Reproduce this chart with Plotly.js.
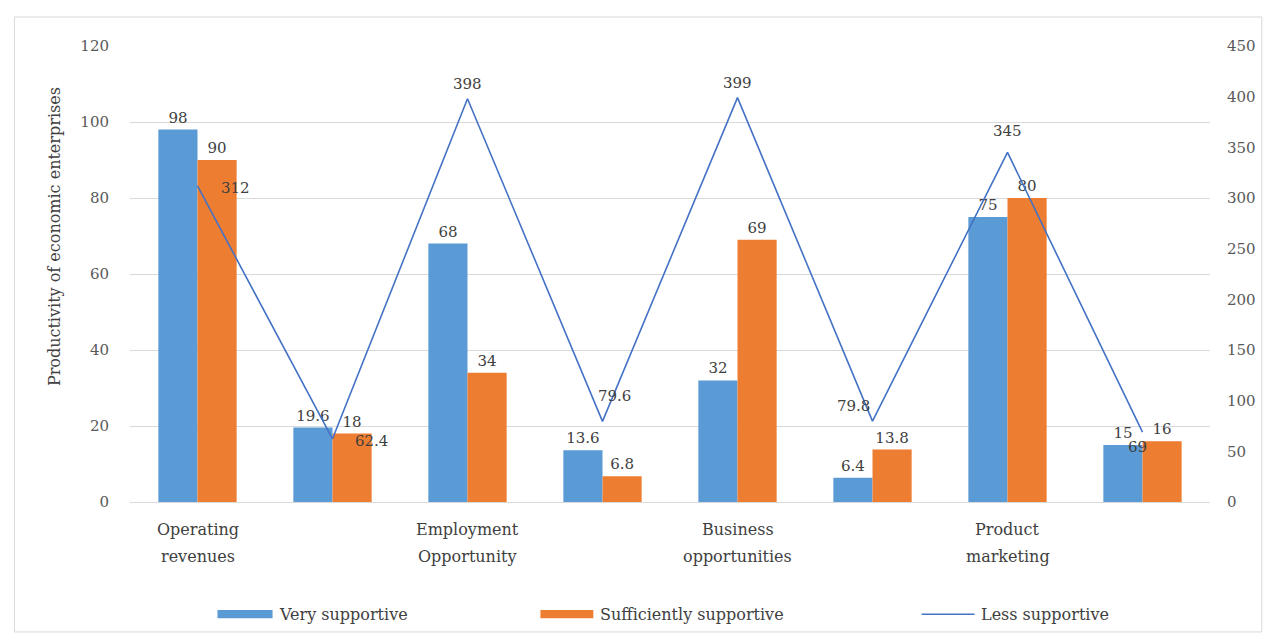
<!DOCTYPE html>
<html>
<head>
<meta charset="utf-8">
<script src="https://cdn.plot.ly/plotly-3.0.1.min.js"></script>
<style>
  html, body { margin: 0; padding: 0; background: #ffffff; }
  #chart { width: 1263px; height: 639px; }
</style>
</head>
<body>
<div id="chart"></div>
<script>
// Category slots (every other slot carries a two-line label)
const categories = ["c1", "c2", "c3", "c4", "c5", "c6", "c7", "c8"];
const labelLine1 = ["Operating", "", "Employment", "", "Business", "", "Product", ""];
const labelLine2 = ["revenues", "", "Opportunity", "", "opportunities", "", "marketing", ""];

// Series values
const verySupportive = [98, 19.6, 68, 13.6, 32, 6.4, 75, 15];
const sufficientlySupportive = [90, 18, 34, 6.8, 69, 13.8, 80, 16];
const lessSupportive = [312, 62.4, 398, 79.6, 399, 79.8, 345, 69];

// Series names and colours
const seriesNames = ["Very supportive", "Sufficiently supportive", "Less supportive"];
const seriesColors = ["#5B9BD5", "#ED7D31", "#4472C4"];

// Pixel offsets of the line's value labels from their points [dx, dy]
const lineLabelShift = [[38, -2], [39, -2], [0, 15], [12, 25], [0, 15], [-19, 15], [0, 21], [-5, -15]];

const serif = "DejaVu Serif, Liberation Serif, serif";
const labelFont = { family: serif, size: 15, color: "#404040" };

const traces = [
  {
    type: "bar",
    name: seriesNames[0],
    x: categories,
    y: verySupportive,
    marker: { color: seriesColors[0] },
    text: verySupportive.map(String),
    textposition: "outside",
    textfont: labelFont,
    cliponaxis: false
  },
  {
    type: "bar",
    name: seriesNames[1],
    x: categories,
    y: sufficientlySupportive,
    marker: { color: seriesColors[1] },
    text: sufficientlySupportive.map(String),
    textposition: "outside",
    textfont: labelFont,
    cliponaxis: false
  },
  {
    type: "scatter",
    mode: "lines",
    name: seriesNames[2],
    x: categories,
    y: lessSupportive,
    yaxis: "y2",
    line: { color: seriesColors[2], width: 1.6 },
    cliponaxis: false
  }
];

// Outer frame
const shapes = [
  {
    type: "rect",
    xref: "paper", yref: "paper",
    x0: -0.107, x1: 1.048,
    y0: -0.285, y1: 1.0636,
    line: { color: "#d9d9d9", width: 1 },
    fillcolor: "rgba(0,0,0,0)",
    layer: "below"
  }
];

// Left axis title
const annotations = [
  {
    xref: "paper", yref: "paper",
    x: -0.0704, y: 0.583,
    xanchor: "center", yanchor: "middle",
    text: "Productivity of economic enterprises",
    textangle: -90,
    showarrow: false,
    font: { family: serif, size: 16, color: "#404040" }
  }
];

// Two-line category labels under the axis
categories.forEach((c, i) => {
  [[labelLine1[i], -0.0614], [labelLine2[i], -0.1206]].forEach(([txt, yy]) => {
    if (!txt) return;
    annotations.push({
      xref: "x", yref: "paper",
      x: c, y: yy,
      xanchor: "center", yanchor: "middle",
      text: txt,
      showarrow: false,
      font: { family: serif, size: 16, color: "#404040" }
    });
  });
});

// Value labels of the line series (right axis)
lessSupportive.forEach((v, i) => {
  annotations.push({
    xref: "x", yref: "y2",
    x: categories[i], y: v,
    xshift: lineLabelShift[i][0],
    yshift: lineLabelShift[i][1],
    xanchor: "center", yanchor: "middle",
    text: String(v),
    showarrow: false,
    font: labelFont
  });
});

// Legend: swatches + names below the plot area
const legendY = -0.246;
const legendItems = [
  { x0: 0.081, x1: 0.132, kind: "bar" },
  { x0: 0.380, x1: 0.429, kind: "bar" },
  { x0: 0.733, x1: 0.782, kind: "line" }
];
legendItems.forEach((item, i) => {
  if (item.kind === "bar") {
    shapes.push({
      type: "rect", xref: "paper", yref: "paper",
      x0: item.x0, x1: item.x1,
      y0: legendY - 0.009, y1: legendY + 0.009,
      fillcolor: seriesColors[i], line: { width: 0 }
    });
  } else {
    shapes.push({
      type: "line", xref: "paper", yref: "paper",
      x0: item.x0, x1: item.x1,
      y0: legendY, y1: legendY,
      line: { color: seriesColors[i], width: 1.6 }
    });
  }
  annotations.push({
    xref: "paper", yref: "paper",
    x: item.x1 + 0.004, y: legendY,
    xanchor: "left", yanchor: "middle",
    text: seriesNames[i],
    showarrow: false,
    font: { family: serif, size: 16, color: "#404040" }
  });
});

const layout = {
  width: 1263,
  height: 639,
  margin: { l: 130, r: 53, t: 46, b: 137 },
  paper_bgcolor: "#ffffff",
  plot_bgcolor: "#ffffff",
  font: { family: serif, size: 15, color: "#595959" },
  barmode: "group",
  bargap: 0.42,
  bargroupgap: 0,
  showlegend: false,
  xaxis: {
    type: "category",
    showticklabels: false,
    showgrid: false,
    showline: true,
    linecolor: "#d9d9d9",
    linewidth: 1,
    ticks: "",
    fixedrange: true
  },
  yaxis: {
    range: [0, 120],
    dtick: 20,
    showgrid: true,
    gridcolor: "#d9d9d9",
    gridwidth: 1,
    zeroline: false,
    tickfont: { family: serif, size: 15, color: "#595959" },
    ticklabelstandoff: 20,
    fixedrange: true
  },
  yaxis2: {
    overlaying: "y",
    side: "right",
    range: [0, 450],
    dtick: 50,
    showgrid: false,
    zeroline: false,
    tickfont: { family: serif, size: 15, color: "#595959" },
    ticklabelstandoff: 16,
    fixedrange: true
  },
  shapes: shapes,
  annotations: annotations
};

Plotly.newPlot("chart", traces, layout, { displayModeBar: false, staticPlot: true });
</script>
</body>
</html>
